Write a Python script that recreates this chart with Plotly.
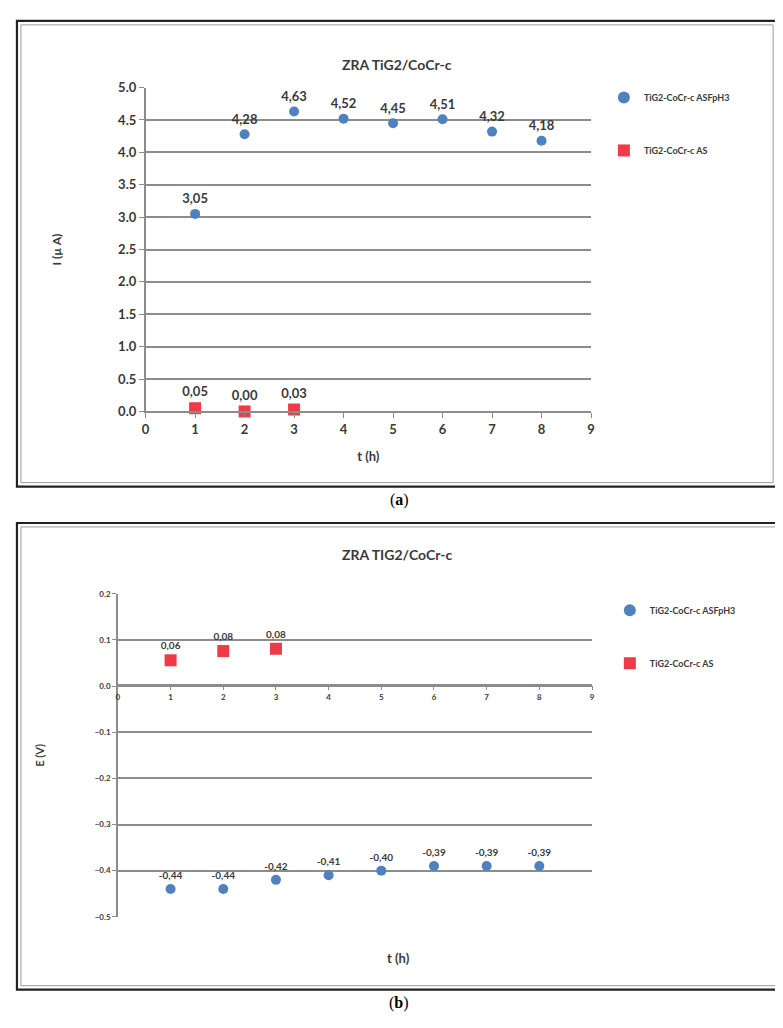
import plotly.graph_objects as go

W, H = 783, 1028

# data
hours = [1, 2, 3, 4, 5, 6, 7, 8]
hours_as = [1, 2, 3]

i_asfph3 = [3.05, 4.28, 4.63, 4.52, 4.45, 4.51, 4.32, 4.18]
i_as = [0.05, 0.00, 0.03]

e_asfph3 = [-0.44, -0.44, -0.42, -0.41, -0.40, -0.39, -0.39, -0.39]
e_as = [0.056, 0.076, 0.081]

name_blue = "TiG2-CoCr-c ASFpH3"
name_red = "TiG2-CoCr-c AS"
title_txt = "ZRA TiG2/CoCr-c"

BLUE = "#4F81BD"
RED = "#EE3B4A"
TXT = "#3a3a3a"
GRID = "#8c8c8c"
FONT = "Lato"


def comma(vals):
    return [f"{v:.2f}".replace(".", ",") for v in vals]


def px(x):
    return x / W


def py(y):
    return 1 - y / H


def bold(size):
    return dict(family=FONT, size=size, color=TXT, weight="bold")


fig = go.Figure()

# panel (a)
fig.add_trace(go.Scatter(
    x=hours, y=i_asfph3, mode="markers+text", name=name_blue,
    text=comma(i_asfph3), textposition="top center", textfont=bold(13),
    marker=dict(symbol="circle", size=10, color=BLUE),
    xaxis="x", yaxis="y", legend="legend", legendgroup="a1", cliponaxis=False,
))
fig.add_trace(go.Scatter(
    x=hours_as, y=i_as, mode="markers+text", name=name_red,
    text=comma(i_as), textposition="top center", textfont=bold(13),
    marker=dict(symbol="square", size=12, color=RED),
    xaxis="x", yaxis="y", legend="legend", legendgroup="a2", cliponaxis=False,
))

# panel (b)
fig.add_trace(go.Scatter(
    x=hours, y=e_asfph3, mode="markers+text", name=name_blue,
    text=comma(e_asfph3), textposition="top center", textfont=bold(10),
    marker=dict(symbol="circle", size=10, color=BLUE),
    xaxis="x2", yaxis="y2", legend="legend2", legendgroup="b1", cliponaxis=False,
))
fig.add_trace(go.Scatter(
    x=hours_as, y=e_as, mode="markers+text", name=name_red,
    text=comma(e_as), textposition="top center", textfont=bold(10),
    marker=dict(symbol="square", size=12, color=RED),
    xaxis="x2", yaxis="y2", legend="legend2", legendgroup="b2", cliponaxis=False,
))

fig.update_layout(
    width=W, height=H,
    margin=dict(l=0, r=0, t=0, b=0),
    paper_bgcolor="white", plot_bgcolor="white",
    font=dict(family=FONT, color=TXT),
    xaxis=dict(
        domain=[px(135), px(585)], range=[0, 9], dtick=1,
        showgrid=False, zeroline=False,
        showline=True, linecolor=GRID, linewidth=1.5,
        ticks="outside", ticklen=5, tickcolor=GRID,
        tickfont=bold(13), anchor="y",
        title=dict(text="t (h)", font=bold(13), standoff=16),
    ),
    yaxis=dict(
        domain=[py(401.7), py(72.7)], range=[0, 5], dtick=0.5, tickformat=".1f",
        showgrid=True, gridcolor=GRID, gridwidth=1.5, zeroline=False,
        showline=True, linecolor=GRID, linewidth=1.5,
        ticks="outside", ticklen=5, tickcolor=GRID,
        tickfont=bold(13), anchor="x",
        title=dict(text="I (µ A)", font=bold(12), standoff=54),
    ),
    xaxis2=dict(
        domain=[px(107), px(586)], range=[0, 9], dtick=1,
        showgrid=False, zeroline=False,
        showline=True, linecolor=GRID, linewidth=1.5,
        ticks="outside", ticklen=4, tickcolor=GRID,
        tickfont=bold(8), anchor="free", position=py(680),
    ),
    yaxis2=dict(
        domain=[py(915), py(587)], range=[-0.5, 0.2], dtick=0.1, tickformat=".1f",
        showgrid=True, gridcolor=GRID, gridwidth=1.5, zeroline=False,
        showline=True, linecolor=GRID, linewidth=1.5,
        ticks="outside", ticklen=4, tickcolor=GRID,
        tickfont=bold(8), anchor="x2",
        title=dict(text="E (V)", font=bold(11), standoff=48),
    ),
    legend=dict(
        x=px(598), y=py(68), xanchor="left", yanchor="top",
        font=bold(9), tracegroupgap=34, itemwidth=30,
        itemsizing="constant", bgcolor="rgba(0,0,0,0)",
    ),
    legend2=dict(
        x=px(604), y=py(589), xanchor="left", yanchor="top",
        font=bold(9), tracegroupgap=34, itemwidth=30,
        itemsizing="constant", bgcolor="rgba(0,0,0,0)",
    ),
    showlegend=True,
)

# titles and captions
fig.add_annotation(text=title_txt, x=px(389), y=py(39), xref="paper", yref="paper",
                   showarrow=False, font=bold(14))
fig.add_annotation(text="ZRA TIG2/CoCr-c", x=px(389), y=py(547), xref="paper", yref="paper",
                   showarrow=False, font=bold(14))
fig.add_annotation(text="t (h)", x=px(390), y=py(967), xref="paper", yref="paper",
                   showarrow=False, font=bold(13))
fig.add_annotation(text="(<b>a</b>)", x=px(391), y=py(492), xref="paper", yref="paper",
                   showarrow=False, font=dict(family="Liberation Serif", size=16, color="black"))
fig.add_annotation(text="(<b>b</b>)", x=px(391), y=py(1014), xref="paper", yref="paper",
                   showarrow=False, font=dict(family="Liberation Serif", size=16, color="black"))

# double-line frames around each chart
for (x0, y0, x1, y1) in [(5, 5, 773, 478), (5, 515, 777, 989)]:
    fig.add_shape(type="rect", xref="paper", yref="paper",
                  x0=px(x0), y0=py(y1), x1=px(x1), y1=py(y0),
                  line=dict(color="#222222", width=2.2))
    fig.add_shape(type="rect", xref="paper", yref="paper",
                  x0=px(x0 + 4), y0=py(y1 - 4), x1=px(x1 - 4), y1=py(y0 + 4),
                  line=dict(color="#9a9a9a", width=1))

fig.write_html("out.html")
